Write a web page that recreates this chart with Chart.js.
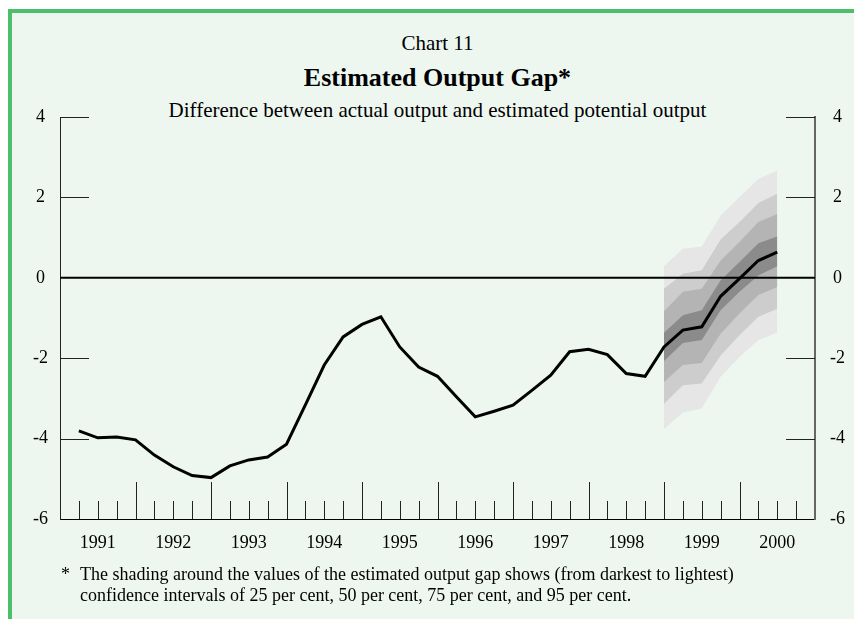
<!DOCTYPE html>
<html>
<head>
<meta charset="utf-8">
<script src="https://cdn.jsdelivr.net/npm/chart.js@4.4.0/dist/chart.umd.min.js"></script>
<style>
  body { margin: 0; background: #fff; }
  #panel {
    position: absolute; left: 8px; top: 9px; width: 846px; height: 610px;
    border-left: 4px solid #4dbe6b; border-top: 4px solid #4dbe6b;
    background: #edf7f0; box-sizing: border-box;
  }
  #wrap { position: absolute; left: 0; top: 0; width: 854px; height: 619px; }
  .txt { position: absolute; font-family: 'Liberation Serif', serif; color: #000; white-space: nowrap; }
  .center { left: 0; width: 875px; text-align: center; }
</style>
</head>
<body>
<div id="panel"></div>
<div class="txt center" style="top:31px;font-size:21px;line-height:24px;">Chart 11</div>
<div class="txt center" style="top:63px;font-size:26px;line-height:30px;font-weight:bold;">Estimated Output Gap*</div>
<div class="txt center" style="top:98px;font-size:21px;line-height:24px;">Difference between actual output and estimated potential output</div>
<div id="wrap"><canvas id="gapChart"></canvas></div>
<div class="txt" style="left:61px;top:564px;font-size:18px;line-height:21px;">*</div>
<div class="txt" style="left:80px;top:564px;font-size:18px;line-height:21px;">The shading around the values of the estimated output gap shows (from darkest to lightest)<br>confidence intervals of 25 per cent, 50 per cent, 75 per cent, and 95 per cent.</div>
<script>
// year labels, one per year, placed mid-year on a quarterly axis
const years = ['1991', '1992', '1993', '1994', '1995', '1996', '1997', '1998', '1999', '2000'];
const yTicks = [-6, -4, -2, 0, 2, 4];

// estimated output gap, quarterly, first value is quarter 1 on the axis
const firstQuarter = 1;
const gap = [-3.81, -3.98, -3.96, -4.03, -4.41, -4.70, -4.92, -4.97, -4.68, -4.53, -4.46, -4.14,
  -3.16, -2.17, -1.47, -1.16, -0.97, -1.72, -2.22, -2.45, -2.96, -3.46, -3.32, -3.17,
  -2.80, -2.42, -1.84, -1.78, -1.91, -2.38, -2.45, -1.72, -1.30, -1.22, -0.46, -0.02, 0.43, 0.64];

// confidence bands start at this position in gap[]
const bandStart = 31;
const up95 = [0.29, 0.72, 0.78, 1.55, 2.01, 2.46, 2.67];
const up75 = [-0.27, 0.10, 0.19, 0.95, 1.39, 1.86, 2.09];
const up50 = [-0.83, -0.35, -0.27, 0.43, 0.89, 1.39, 1.59];
const up25 = [-1.37, -0.93, -0.81, -0.06, 0.39, 0.86, 1.03];
const lo25 = [-2.07, -1.62, -1.55, -0.81, -0.35, 0.06, 0.29];
const lo50 = [-2.59, -2.17, -2.12, -1.39, -0.89, -0.43, -0.23];
const lo75 = [-3.13, -2.67, -2.63, -1.93, -1.43, -0.97, -0.77];
const lo95 = [-3.77, -3.35, -3.25, -2.46, -1.97, -1.55, -1.37];

const toPoints = (arr, start) => arr.map((v, i) => ({ x: firstQuarter + start + i, y: v }));

function band(data, fill, color) {
  return {
    data: toPoints(data, bandStart),
    borderWidth: 0,
    pointRadius: 0,
    backgroundColor: color,
    fill: fill,
  };
}

const serif = 'Liberation Serif';

// zero line between the bands and the main line, tick marks inside the frame
const frameMarks = {
  id: 'frameMarks',
  beforeDatasetDraw(chart, args) {
    if (args.index !== 0) return;
    const ctx = chart.ctx;
    const area = chart.chartArea;
    const y0 = chart.scales.y.getPixelForValue(0);
    ctx.save();
    ctx.strokeStyle = '#000';
    ctx.lineWidth = 2;
    ctx.beginPath();
    ctx.moveTo(area.left, y0);
    ctx.lineTo(area.right, y0);
    ctx.stroke();
    ctx.restore();
  },
  afterDatasetsDraw(chart) {
    const ctx = chart.ctx;
    const area = chart.chartArea;
    const x = chart.scales.x;
    const y = chart.scales.y;
    ctx.save();
    ctx.strokeStyle = '#222';
    ctx.lineWidth = 1;
    ctx.beginPath();
    for (let q = x.min + 1; q < x.max; q++) {
      const px = Math.round(x.getPixelForValue(q)) + 0.5;
      const len = q % 4 === 0 ? 37 : 18;
      ctx.moveTo(px, area.bottom);
      ctx.lineTo(px, area.bottom - len);
    }
    yTicks.forEach(v => {
      if (v === 0 || v === y.min) return;
      const py = Math.round(y.getPixelForValue(v)) + 0.5;
      ctx.moveTo(area.left, py);
      ctx.lineTo(area.left + 29, py);
      ctx.moveTo(area.right - 29, py);
      ctx.lineTo(area.right, py);
    });
    ctx.stroke();
    ctx.restore();
  },
};

const ctx = document.getElementById('gapChart').getContext('2d');
const gapChart = new Chart(ctx, {
  type: 'line',
  data: {
    datasets: [
      {
        data: toPoints(gap, 0),
        borderColor: '#000',
        borderWidth: 3,
        pointRadius: 0,
        fill: false,
        tension: 0,
      },
      band(up25, '+1', '#8b8b8b'),
      band(lo25, false, '#8b8b8b'),
      band(up50, '+1', '#b4b4b4'),
      band(lo50, false, '#b4b4b4'),
      band(up75, '+1', '#cdcdcd'),
      band(lo75, false, '#cdcdcd'),
      band(up95, '+1', '#e6e6e6'),
      band(lo95, false, '#e6e6e6'),
    ],
  },
  options: {
    responsive: true,
    maintainAspectRatio: false,
    animation: false,
    layout: {
      padding: { top: 117, bottom: 60, left: 0, right: 0 },
    },
    plugins: {
      legend: { display: false },
      tooltip: { enabled: false },
    },
    scales: {
      x: {
        type: 'linear',
        min: 0,
        max: 40,
        grid: { display: false },
        border: { display: true, color: '#000', width: 1 },
        afterBuildTicks: scale => {
          scale.ticks = years.map((yr, i) => ({ value: 2 + 4 * i }));
        },
        afterFit: scale => { scale.height = 40; },
        ticks: {
          autoSkip: false,
          maxRotation: 0,
          padding: 5,
          color: '#000',
          font: { family: serif, size: 18 },
          callback: (v, i) => years[i],
        },
      },
      y: {
        position: 'left',
        min: -6,
        max: 4,
        grid: { display: false, drawTicks: false },
        border: { display: true, color: '#222', width: 1 },
        afterBuildTicks: scale => {
          scale.ticks = yTicks.map(v => ({ value: v }));
        },
        afterFit: scale => { scale.width = 60; },
        ticks: {
          padding: 12,
          crossAlign: 'center',
          color: '#000',
          font: { family: serif, size: 18 },
        },
      },
      y2: {
        position: 'right',
        min: -6,
        max: 4,
        grid: { display: false, drawTicks: false },
        border: { display: true, color: '#666', width: 2 },
        afterBuildTicks: scale => {
          scale.ticks = yTicks.map(v => ({ value: v }));
        },
        afterFit: scale => { scale.width = 39; },
        ticks: {
          padding: 15,
          crossAlign: 'center',
          color: '#000',
          font: { family: serif, size: 18 },
        },
      },
    },
  },
  plugins: [frameMarks],
});
</script>
</body>
</html>
